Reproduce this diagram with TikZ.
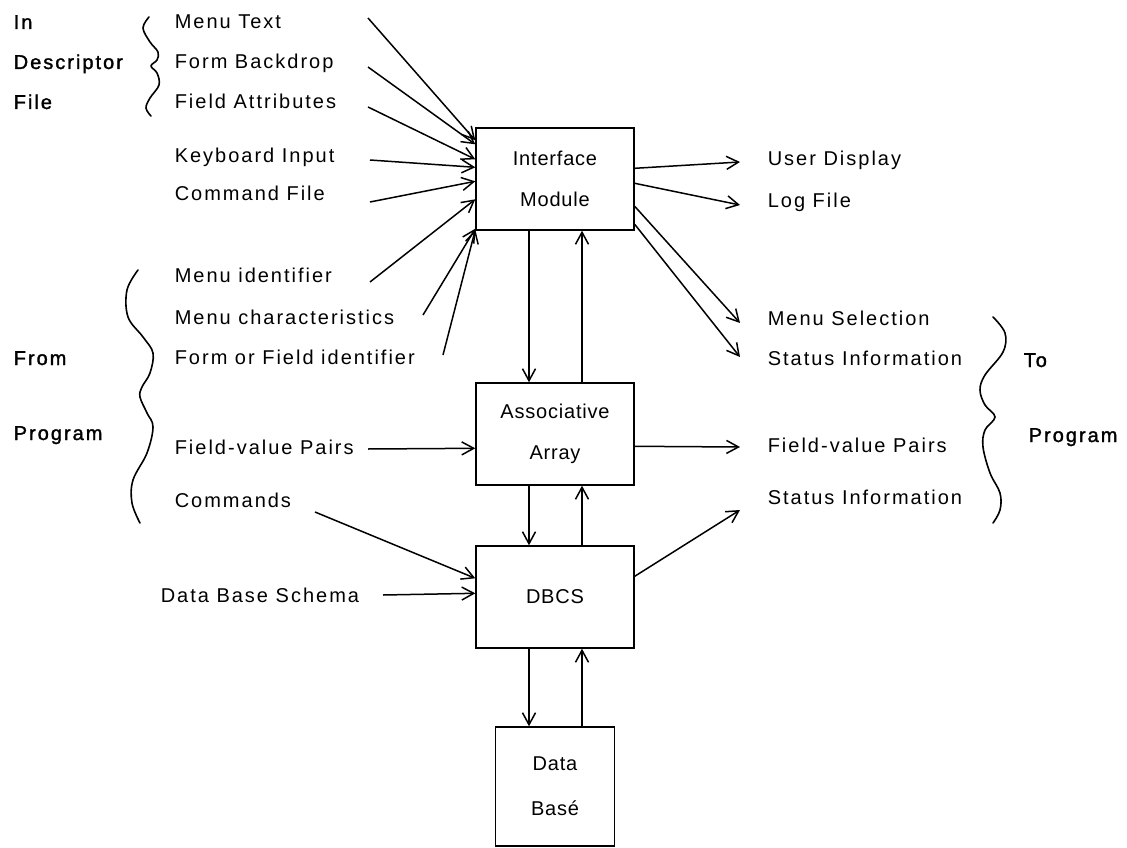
\documentclass[tikz,border=0pt]{standalone}
\usepackage{fontspec}
\setmainfont{Liberation Sans}[LetterSpace=10]
\newfontfamily\heavyfont{Liberation Sans}[LetterSpace=10,FakeBold=1.5]
\newfontfamily\boxfont{Liberation Sans}[LetterSpace=4]
\usetikzlibrary{arrows.meta,calc}
\begin{document}
\begin{tikzpicture}[x=1pt,y=-1pt,
  font=\fontsize{20}{41}\selectfont,
  line width=1.5pt,
  >={Straight Barb[length=12pt,width=13pt]},
  box/.style={draw,line width=1.4pt,minimum width=158pt,minimum height=102pt,inner sep=0pt,align=center,font=\boxfont\fontsize{20}{41}\selectfont},
  lab/.style={anchor=base west,inner sep=0pt},
  hlab/.style={anchor=base west,inner sep=0pt,font=\heavyfont\fontsize{20}{41}\selectfont},
  brace/.style={line width=1.6pt,line cap=round,line join=round}]
\useasboundingbox (0,0) rectangle (1127,848);

% boxes
\node[box] (iface) at (555,179) {Interface\\Module};
\node[box] (assoc) at (555,434) {Associative\\Array};
\node[box] (dbcs) at (555,597) {DBCS};
\node[box,minimum width=119pt,minimum height=119pt] (db) at (555,786.5) {Data\\[4pt]Bas\'e};

% left group labels
\node[hlab] (in) at (13,29) {In};
\node[hlab] (desc) at (13,69) {Descriptor};
\node[hlab] (file) at (13,109) {File};
\node[hlab] (from) at (13,365) {From};
\node[hlab] (prog) at (13,440) {Program};
\node[hlab] (to) at (1023,367) {To};
\node[hlab] (prog2) at (1028,442) {Program};

% left labels
\node[lab] (mt) at (174,29) {Menu Text};
\node[lab] (fb) at (174,69) {Form Backdrop};
\node[lab] (fa) at (174,109) {Field Attributes};
\node[lab] (ki) at (174,162) {Keyboard Input};
\node[lab] (cf) at (174,200) {Command File};
\node[lab] (mi) at (174,282) {Menu identifier};
\node[lab] (mc) at (174,324) {Menu characteristics};
\node[lab] (ff) at (174,364) {Form or Field identifier};
\node[lab] (fv) at (174,454) {Field-value Pairs};
\node[lab] (cm) at (174,507) {Commands};
\node[lab] (ds) at (160,602) {Data Base Schema};

% right labels
\node[lab] (ud) at (767,165) {User Display};
\node[lab] (lf) at (767,207) {Log File};
\node[lab] (ms) at (767,325) {Menu Selection};
\node[lab] (si) at (767,365) {Status Information};
\node[lab] (fvo) at (767,452) {Field-value Pairs};
\node[lab] (si2) at (767,504) {Status Information};

% free ends
\coordinate (mtT) at (368,18);
\coordinate (fbT) at (368,67);
\coordinate (faT) at (368,107);
\coordinate (kiT) at (370,160);
\coordinate (cfT) at (370,202);
\coordinate (miT) at (370,282);
\coordinate (mcT) at (423,315);
\coordinate (ffT) at (443,355);
\coordinate (fvT) at (368,449);
\coordinate (cmT) at (315,512);
\coordinate (dsT) at (383,595);
\coordinate (udH) at (740,162);
\coordinate (lfH) at (740,205);
\coordinate (msH) at (740,323);
\coordinate (siH) at (740,357);
\coordinate (fvoH) at (740,447);
\coordinate (si2H) at (740,510);

% inputs to interface module
\draw[->] (mtT) -- ([yshift=-13pt]iface.north west);
\draw[->] (fbT) -- ([yshift=-17pt]iface.north west);
\draw[->] (faT) -- ([yshift=-32pt]iface.north west);
\draw[->] (kiT) -- ([yshift=-40pt]iface.north west);
\draw[->] (cfT) -- ([yshift=-54pt]iface.north west);
\draw[->] (miT) -- ([yshift=-72pt]iface.north west);
\draw[->] (mcT) -- ([yshift=2pt]iface.south west);
\draw[->] (ffT) -- ([yshift=1pt]iface.south west);

% outputs of interface module
\draw[->] ([yshift=-41pt]iface.north east) -- (udH);
\draw[->] ([yshift=-56pt]iface.north east) -- (lfH);
\draw[->] ([yshift=-79pt]iface.north east) -- (msH);
\draw[->] ([yshift=-97pt]iface.north east) -- (siH);

% associative array
\draw[->] (fvT) -- ([yshift=-66pt]assoc.north west);
\draw[->] ([yshift=-64pt]assoc.north east) -- (fvoH);

% DBCS
\draw[->] (cmT) -- ([yshift=-33pt]dbcs.north west);
\draw[->] (dsT) -- ([yshift=-48pt]dbcs.north west);
\draw[->] ([yshift=-31pt]dbcs.north east) -- (si2H);

% vertical pairs
\draw[->] ([xshift=-26pt]iface.south) -- ([xshift=-26pt]assoc.north);
\draw[->] ([xshift=27pt]assoc.north) -- ([xshift=27pt]iface.south);
\draw[->] ([xshift=-26pt]assoc.south) -- ([xshift=-26pt]dbcs.north);
\draw[->] ([xshift=27pt]dbcs.north) -- ([xshift=27pt]assoc.south);
\draw[->] ([xshift=-26pt]dbcs.south) -- ([xshift=-26pt]db.north);
\draw[->] ([xshift=27pt]db.north) -- ([xshift=27pt]dbcs.south);

% braces
\draw[brace] plot[smooth,tension=0.6] coordinates {(149,17) (143,28) (150,42) (158,52) (157,60) (151,66) (157,73) (159,85) (150,98) (146,108) (151,116)};
\draw[brace] plot[smooth,tension=0.6] coordinates {(138,270) (127,290) (128,317) (143,337) (153,353) (150,373) (142,387) (140,397) (147,413) (153,427) (147,453) (133,480) (132,503) (140,523)};
\draw[brace] plot[smooth,tension=0.6] coordinates {(993,317) (1005,333) (1003,352) (985,375) (980,390) (985,405) (995,417) (985,430) (983,447) (990,473) (1000,493) (1000,510) (993,523)};
\end{tikzpicture}
\end{document}
